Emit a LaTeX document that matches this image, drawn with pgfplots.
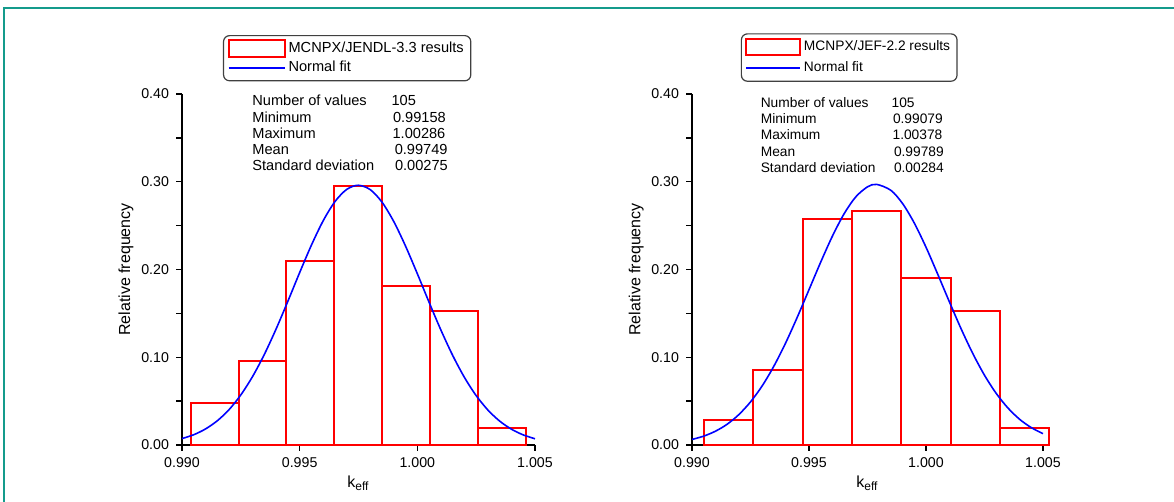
\documentclass[border=0pt]{standalone}
\usepackage{pgfplots}
\pgfplotsset{compat=1.18}
\usepackage{fontspec}
\setmainfont{Liberation Sans}
\definecolor{tealb}{RGB}{20,155,140}
\newcommand\fs{\fontsize{7.3}{8.5}\selectfont}
\newcommand\fsr{\fontsize{6.88}{8}\selectfont}
\newcommand\ft{\fontsize{7.1}{8.5}\selectfont}
\newcommand\fl{\fontsize{8}{9.5}\selectfont}

\pgfplotsset{
 hist/.style={
   scale only axis, width=176.5pt, height=175.5pt,
   xmin=0.990, xmax=1.005, ymin=0, ymax=0.40,
   axis x line*=bottom, axis y line*=left,
   axis line style={-, line width=0.7pt},
   tick align=outside,
   major tick length=3pt, minor tick length=3pt,
   tick style={black, line width=0.7pt},
   xtick={0.990,0.995,1.000,1.005},
   ytick={0,0.1,0.2,0.3,0.4},
   minor ytick={0.05,0.15,0.25,0.35},
   scaled ticks=false,
   /pgf/number format/assume math mode=true,
   xticklabel style={font=\ft, /pgf/number format/.cd, fixed, fixed zerofill, precision=3},
   yticklabel style={font=\ft, /pgf/number format/.cd, fixed, fixed zerofill, precision=2},
   label style={font=\fl},
   xlabel={k\textsubscript{eff}},
   ylabel={Relative frequency},
   xlabel style={at={(axis description cs:0.5,-0.108)}, anchor=center},
   ylabel style={at={(axis description cs:-0.159,0.5)}, anchor=center},
   clip=false,
   legend cell align=left,
   legend style={draw=black!75, line width=0.6pt, rounded corners=3pt, font=\fs,
     anchor=north west, inner xsep=2pt, inner ysep=1.5pt, row sep=0pt,
     nodes={inner sep=1.5pt}},
 },
 histimg/.style={legend image code/.code={\draw[red, line width=1pt, sharp corners] (0pt,-4.3pt) rectangle (28pt,4.3pt);}},
 fitimg/.style={legend image code/.code={\draw[blue, line width=0.8pt, sharp corners] (0pt,0pt) -- (28pt,0pt);}},
 histimgR/.style={legend image code/.code={\draw[red, line width=1pt, sharp corners] (0pt,-4.05pt) rectangle (26.8pt,4.05pt);}},
 fitimgR/.style={legend image code/.code={\draw[blue, line width=0.8pt, sharp corners] (0pt,0pt) -- (26.8pt,0pt);}},
}

\begin{document}
\begin{tikzpicture}
\useasboundingbox (0,0) rectangle (587pt,251pt);
\draw[tealb, line width=1pt] (2pt,0pt) -- (2pt,247pt) -- (587pt,247pt);

% ---------- left panel ----------
\begin{axis}[hist, at={(91pt,28.5pt)}, anchor=south west,
  legend style={at={(axis description cs:0.116,1.168)}}]
\addlegendimage{histimg}
\addlegendentry{MCNPX/JENDL-3.3 results}
\addlegendimage{fitimg}
\addlegendentry{Normal fit}
\addplot[ybar interval, draw=red, line width=1pt, fill=none, forget plot] coordinates {
 (0.99037,0.0476) (0.99241,0.0952) (0.99444,0.2095) (0.99648,0.2952)
 (0.99851,0.1810) (1.00055,0.1524) (1.00258,0.0190) (1.00462,0)};
\addplot[blue, line width=0.8pt, smooth, no markers, forget plot] coordinates {
 (0.9900,0.0073) (0.9905,0.0117) (0.9910,0.0183) (0.9915,0.0276) (0.9920,0.0403)
 (0.9925,0.0571) (0.9930,0.0781) (0.9935,0.1033) (0.9940,0.1323) (0.9945,0.1639)
 (0.9950,0.1965) (0.9955,0.2278) (0.9960,0.2556) (0.9965,0.2774) (0.9970,0.2913)
 (0.99749,0.2960) (0.9980,0.2910) (0.9985,0.2767) (0.9990,0.2546) (0.9995,0.2266)
 (1.0000,0.1952) (1.0005,0.1626) (1.0010,0.1311) (1.0015,0.1022) (1.0020,0.0771)
 (1.0025,0.0563) (1.0030,0.0398) (1.0035,0.0272) (1.0040,0.0180) (1.0045,0.0115)
 (1.0050,0.0071)};
\end{axis}

% ---------- right panel ----------
\begin{axis}[hist, at={(346pt,28.5pt)}, anchor=south west, width=175.5pt,
  legend style={at={(axis description cs:0.139,1.173)}, font=\fsr, inner ysep=2pt, row sep=0.7pt}]
\addlegendimage{histimgR}
\addlegendentry{MCNPX/JEF-2.2 results}
\addlegendimage{fitimgR}
\addlegendentry{Normal fit}
\addplot[ybar interval, draw=red, line width=1pt, fill=none, forget plot] coordinates {
 (0.99051,0.0286) (0.99262,0.0857) (0.99473,0.2571) (0.99684,0.2667)
 (0.99894,0.1905) (1.00105,0.1524) (1.00316,0.0190) (1.00527,0)};
\addplot[blue, line width=0.8pt, smooth, no markers, forget plot] coordinates {
 (0.9900,0.0063) (0.9905,0.0101) (0.9910,0.0157) (0.9915,0.0236) (0.9920,0.0346)
 (0.9925,0.0491) (0.9930,0.0674) (0.9935,0.0899) (0.9940,0.1162) (0.9945,0.1457)
 (0.9950,0.1770) (0.9955,0.2084) (0.9960,0.2380) (0.9965,0.2635) (0.9970,0.2828)
 (0.9975,0.2942) (0.99789,0.2970) (0.9985,0.2902) (0.9990,0.2751) (0.9995,0.2529)
 (1.0000,0.2254) (1.0005,0.1947) (1.0010,0.1631) (1.0015,0.1324) (1.0020,0.1042)
 (1.0025,0.0795) (1.0030,0.0588) (1.0035,0.0422) (1.0040,0.0293) (1.0045,0.0198)
 (1.0050,0.0129)};
\end{axis}

% ---------- statistics ----------
\begin{scope}[every node/.style={anchor=base west, font=\fs, inner sep=0pt}]
\node at (126pt,198pt) {Number of values};
\node at (126pt,189.85pt) {Minimum};
\node at (126pt,181.65pt) {Maximum};
\node at (126pt,173.85pt) {Mean};
\node at (126pt,165.65pt) {Standard deviation};
\node at (195.6pt,198pt) {105};
\node at (196.3pt,189.85pt) {0.99158};
\node at (196.1pt,181.65pt) {1.00286};
\node at (197.2pt,173.85pt) {0.99749};
\node at (197.3pt,165.65pt) {0.00275};
\end{scope}
\begin{scope}[every node/.style={anchor=base west, font=\fsr, inner sep=0pt}]
\node at (380.2pt,197.35pt) {Number of values};
\node at (380.2pt,189pt) {Minimum};
\node at (380.2pt,181pt) {Maximum};
\node at (380.2pt,172.65pt) {Mean};
\node at (380.2pt,164.85pt) {Standard deviation};
\node at (445.6pt,197.35pt) {105};
\node at (446.3pt,189pt) {0.99079};
\node at (446.1pt,181pt) {1.00378};
\node at (446.8pt,172.65pt) {0.99789};
\node at (446.8pt,164.85pt) {0.00284};
\end{scope}
\end{tikzpicture}
\end{document}
